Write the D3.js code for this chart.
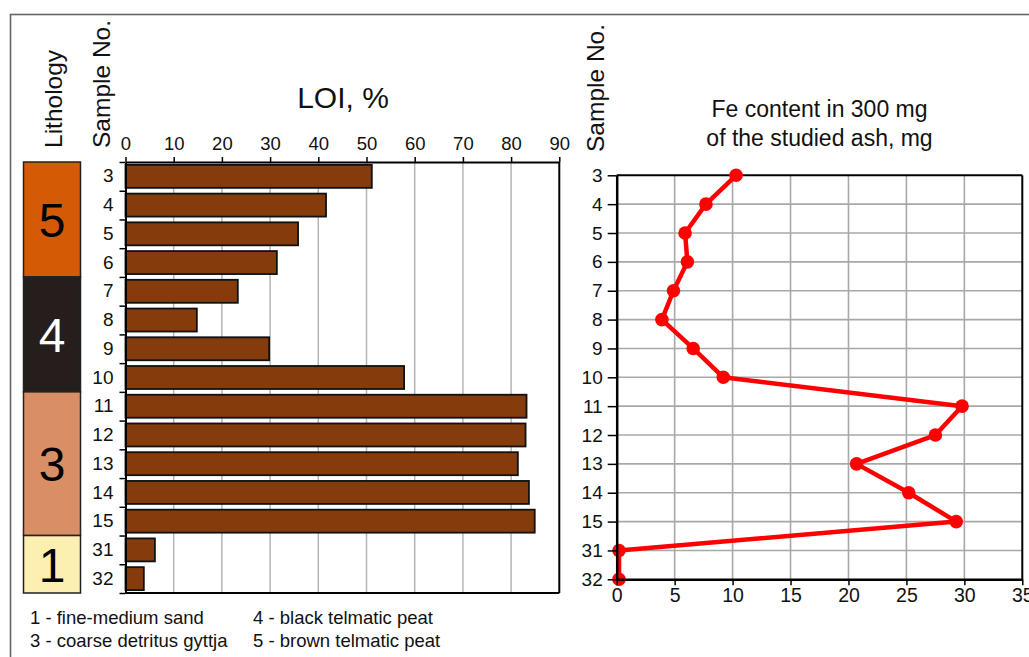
<!DOCTYPE html>
<html><head><meta charset="utf-8">
<script src="https://cdn.jsdelivr.net/npm/d3@7"></script>
<style>
html,body{margin:0;padding:0;background:#fff;overflow:hidden}
svg{display:block;font-family:"Liberation Sans",Arial,sans-serif}
</style></head>
<body>
<svg id="c" width="1029" height="657"></svg>
<script>
// ---------- data ----------
const samples = ["3","4","5","6","7","8","9","10","11","12","13","14","15","31","32"];
const loiValues = [51.1, 41.6, 35.8, 31.4, 23.3, 14.8, 29.8, 57.8, 83.2, 83.0, 81.4, 83.7, 84.9, 6.1, 3.8];
const feValues = [10.3, 7.7, 5.9, 6.1, 4.9, 3.9, 6.6, 9.2, 29.8, 27.5, 20.7, 25.2, 29.3, 0.2, 0.2];
const loiTicks = [0,10,20,30,40,50,60,70,80,90];
const feTicks = [0,5,10,15,20,25,30,35];
const lithoLayers = [
  {label:"5", from:"3", to:"6", color:"#d55a06", text:"#000"},
  {label:"4", from:"7", to:"10", color:"#261d1d", text:"#fff"},
  {label:"3", from:"11", to:"15", color:"#d98f66", text:"#000"},
  {label:"1", from:"31", to:"32", color:"#fdeeb1", text:"#000"}
];
const legendItems = [
  "1 - fine-medium sand", "3 - coarse detritus gyttja",
  "4 - black telmatic peat", "5 - brown telmatic peat"
];

const svg = d3.select("#c");
const FONT = 18.5;

// outer frame
svg.append("rect").attr("x",10.5).attr("y",14.5).attr("width",1060).attr("height",700)
  .attr("fill","none").attr("stroke","#666").attr("stroke-width",1.6);

// ---------- LOI chart ----------
const L = {left:125.5, right:559.3, top:162, bottom:593};
const xL = d3.scaleLinear().domain([0,90]).range([L.left, L.right]);
const yB = d3.scaleBand().domain(samples).range([L.top, L.bottom]).paddingInner(0.2).paddingOuter(0.1);
const yIdx = d3.scaleLinear().domain([0, samples.length]).range([L.top, L.bottom]);
const step = yB.step();

// gridlines
svg.append("g").selectAll("line").data(loiTicks.slice(1,-1)).join("line")
  .attr("x1",d=>xL(d)).attr("x2",d=>xL(d)).attr("y1",L.top).attr("y2",L.bottom)
  .attr("stroke","#b5b5b5").attr("stroke-width",1.5);

// bars
svg.append("g").selectAll("rect").data(samples).join("rect")
  .attr("x", xL(0)).attr("y", d=>yB(d))
  .attr("width", (d,i)=>xL(loiValues[i]) - xL(0))
  .attr("height", yB.bandwidth())
  .attr("fill","#843c0c").attr("stroke","#111").attr("stroke-width",1.8);

// frame lines
svg.append("line").attr("x1",L.right).attr("x2",L.right).attr("y1",L.top).attr("y2",L.bottom).attr("stroke","#000").attr("stroke-width",2);
svg.append("line").attr("x1",L.left).attr("x2",L.right).attr("y1",L.bottom).attr("y2",L.bottom).attr("stroke","#000").attr("stroke-width",2);

// top axis
const axTop = svg.append("g").attr("transform",`translate(0,${L.top})`)
  .call(d3.axisTop(xL).tickValues(loiTicks).tickSize(5).tickSizeOuter(0).tickPadding(7));
axTop.select(".domain").attr("stroke","#000").attr("stroke-width",2);
axTop.selectAll(".tick line").attr("stroke","#000").attr("stroke-width",1.5);
axTop.selectAll("text").attr("font-size",FONT).attr("fill","#111").attr("font-family","Liberation Sans, Arial, sans-serif");

// left axis ticks at band boundaries
const axLeftT = svg.append("g").attr("transform",`translate(${L.left},0)`)
  .call(d3.axisLeft(yIdx).tickValues(d3.range(samples.length+1)).tickSize(6).tickSizeOuter(0).tickFormat(""));
axLeftT.select(".domain").attr("stroke","#000").attr("stroke-width",2);
axLeftT.selectAll(".tick line").attr("stroke","#000").attr("stroke-width",1.5);
// sample labels
const axLeftL = svg.append("g").attr("transform",`translate(${L.left-12},0)`)
  .call(d3.axisLeft(yB).tickSize(0).tickPadding(0));
axLeftL.select(".domain").remove();
axLeftL.selectAll("text").attr("font-size",FONT+0.5).attr("fill","#111").attr("font-family","Liberation Sans, Arial, sans-serif");

// lithology column
const litX = 23.5, litW = 57;
const lg = svg.append("g");
lithoLayers.forEach(l=>{
  const y0 = yIdx(samples.indexOf(l.from));
  const y1 = yIdx(samples.indexOf(l.to)+1);
  lg.append("rect").attr("x",litX).attr("y",y0).attr("width",litW).attr("height",y1-y0)
    .attr("fill",l.color).attr("stroke","#222").attr("stroke-width",1.5);
  lg.append("text").attr("x",litX+litW/2).attr("y",(y0+y1)/2+17.5)
    .attr("text-anchor","middle").attr("font-size",48).attr("fill",l.text).text(l.label);
});

// headers
svg.append("text").attr("transform","translate(61.5,148) rotate(-90)")
  .attr("font-size",24.5).attr("fill","#111").text("Lithology");
svg.append("text").attr("transform","translate(110,148) rotate(-90)")
  .attr("font-size",24.5).attr("fill","#111").text("Sample No.");
svg.append("text").attr("x",343).attr("y",107.5).attr("text-anchor","middle")
  .attr("font-size",30).attr("fill","#111").text("LOI, %");

// legend
const legPos = [[30,624],[30,647],[253,624],[253,647]];
svg.append("g").selectAll("text").data(legendItems).join("text")
  .attr("x",(d,i)=>legPos[i][0]).attr("y",(d,i)=>legPos[i][1])
  .attr("font-size",FONT).attr("fill","#111").text(d=>d);

// ---------- Fe chart ----------
const F = {left:616.7, right:1022.3, top:175.3, bottom:579.3};
const xF = d3.scaleLinear().domain([0,35]).range([F.left, F.right]);
const yP = d3.scalePoint().domain(samples).range([F.top, F.bottom]);

const gF = svg.append("g");
gF.selectAll("line.v").data(feTicks.slice(1,-1)).join("line").attr("class","v")
  .attr("x1",d=>xF(d)).attr("x2",d=>xF(d)).attr("y1",F.top).attr("y2",F.bottom)
  .attr("stroke","#a8a8a8").attr("stroke-width",1.6);
gF.selectAll("line.h").data(samples.slice(1,-1)).join("line").attr("class","h")
  .attr("x1",F.left).attr("x2",F.right).attr("y1",d=>yP(d)).attr("y2",d=>yP(d))
  .attr("stroke","#a8a8a8").attr("stroke-width",1.6);

// borders
gF.append("line").attr("x1",F.left).attr("x2",F.right).attr("y1",F.top).attr("y2",F.top).attr("stroke","#000").attr("stroke-width",2);
gF.append("line").attr("x1",F.right).attr("x2",F.right).attr("y1",F.top).attr("y2",F.bottom).attr("stroke","#000").attr("stroke-width",2);

const axB = svg.append("g").attr("transform",`translate(0,${F.bottom})`)
  .call(d3.axisBottom(xF).tickValues(feTicks).tickSize(6).tickSizeOuter(0).tickPadding(3));
axB.select(".domain").attr("stroke","#000").attr("stroke-width",2.5);
axB.selectAll(".tick line").attr("stroke","#000").attr("stroke-width",1.5);
axB.selectAll("text").attr("font-size",19.5).attr("fill","#111").attr("font-family","Liberation Sans, Arial, sans-serif");

const axL2 = svg.append("g").attr("transform",`translate(${F.left},0)`)
  .call(d3.axisLeft(yP).tickSize(9).tickSizeOuter(0).tickPadding(5));
axL2.select(".domain").attr("stroke","#000").attr("stroke-width",2.5);
axL2.selectAll(".tick line").attr("stroke","#000").attr("stroke-width",1.5);
axL2.selectAll("text").attr("font-size",19).attr("fill","#111").attr("font-family","Liberation Sans, Arial, sans-serif");

// line + markers
const line = d3.line().x((d,i)=>xF(feValues[i])).y(d=>yP(d));
gF.append("path").datum(samples).attr("d",line).attr("fill","none")
  .attr("stroke","#ff0000").attr("stroke-width",4.5).attr("stroke-linejoin","round");
gF.selectAll("circle").data(samples).join("circle")
  .attr("cx",(d,i)=>xF(feValues[i])).attr("cy",d=>yP(d)).attr("r",6.8).attr("fill","#ff0000");

// headers
svg.append("text").attr("transform","translate(603.5,152) rotate(-90)")
  .attr("font-size",24.5).attr("fill","#111").text("Sample No.");
svg.append("text").attr("x",819.5).attr("y",116.5).attr("text-anchor","middle")
  .attr("font-size",23).attr("fill","#111").text("Fe content in 300 mg");
svg.append("text").attr("x",819.5).attr("y",146).attr("text-anchor","middle")
  .attr("font-size",23).attr("fill","#111").text("of the studied ash, mg");
</script>
</body></html>
